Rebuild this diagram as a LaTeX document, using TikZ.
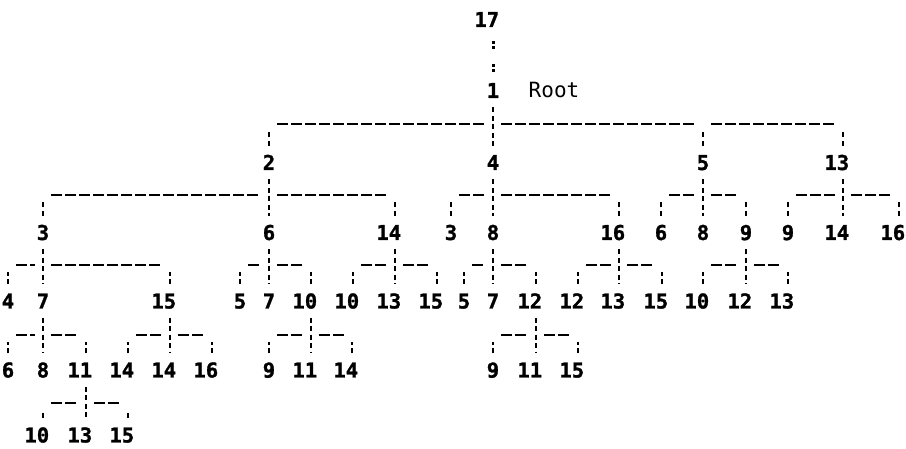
\documentclass[tikz,border=0pt]{standalone}
\usepackage{fontspec}
\newfontfamily\dmono{DejaVu Sans Mono}
\newfontfamily\dmonobold{DejaVu Sans Mono Bold}[FakeBold=1.2]
\usetikzlibrary{calc}
\tikzset{
  num/.style={font=\dmonobold\fontsize{20.5}{20.5}\selectfont, inner xsep=0pt, inner ysep=9pt, text height=15pt, text depth=0pt},
  rootlab/.style={font=\dmono\fontsize{21}{21}\selectfont, inner sep=0pt, text height=15pt, text depth=0pt},
  vl/.style={line width=2.2pt, dash pattern=on 5pt off 3.5pt},
  hl/.style={line width=2.3pt, dash pattern=on 11pt off 3pt},
  colonline/.style={line width=3pt, shorten <=5pt, dash pattern=on 3pt off 2pt on 3pt off 15pt on 3pt off 2pt on 3pt off 30pt}
}
\newcommand\kids[5]{%
  \draw[vl] (#1.south) -- (#4.north);
  \draw[vl,shorten >=7pt] (#3.north) -- (#3.north |- #2);
  \draw[vl,shorten >=7pt] (#5.north) -- (#5.north |- #2);
  \draw[hl] ($(#3.north |- #2)+(8,0)$) -- ($(#4.north |- #2)-(8,0)$);
  \draw[hl] ($(#4.north |- #2)+(8,0)$) -- ($(#5.north |- #2)-(8,0)$);
}
\begin{document}
\begin{tikzpicture}[x=1pt,y=1pt]
\fill[white] (0,0) rectangle (906,449);
\useasboundingbox (0,0) rectangle (906,449);
% bar levels
\coordinate (L1) at (0,325);
\coordinate (L2) at (0,254);
\coordinate (L3) at (0,184);
\coordinate (L4) at (0,114);
\coordinate (L5) at (0,46);
% row 0 and 1
\node[num] (r17) at (493,429.5) {\llap{1}7};
\node[num] (n1) at (493,358.5) {1};
\node[rootlab] (root) at (554,358.5) {Root};
% row 2
\node[num] (a2) at (269,286.5) {2};
\node[num] (a4) at (493,286.5) {4};
\node[num] (a5) at (703,286.5) {5};
\node[num] (a13) at (843,286.5) {\llap{1}3};
% row 3
\node[num] (b3) at (43,216.5) {3};
\node[num] (b6) at (269,216.5) {6};
\node[num] (b14) at (395,216.5) {\llap{1}4};
\node[num] (b3r) at (451,216.5) {3};
\node[num] (b8) at (493,216.5) {8};
\node[num] (b16) at (619,216.5) {\llap{1}6};
\node[num] (b6r) at (661,216.5) {6};
\node[num] (b8r) at (703,216.5) {8};
\node[num] (b9) at (746,216.5) {9};
\node[num] (b9r) at (788,216.5) {9};
\node[num] (b14r) at (843,216.5) {\llap{1}4};
\node[num] (b16r) at (899,216.5) {\llap{1}6};
% row 4
\node[num] (c4) at (8,148) {4};
\node[num] (c7) at (43,148) {7};
\node[num] (c15) at (170,148) {\llap{1}5};
\node[num] (c5) at (240,148) {5};
\node[num] (c7b) at (269,148) {7};
\node[num] (c10) at (311,148) {\llap{1}0};
\node[num] (c10b) at (353,148) {\llap{1}0};
\node[num] (c13) at (395,148) {\llap{1}3};
\node[num] (c15b) at (437,148) {\llap{1}5};
\node[num] (c5b) at (464,148) {5};
\node[num] (c7c) at (493,148) {7};
\node[num] (c12) at (536,148) {\llap{1}2};
\node[num] (c12b) at (578,148) {\llap{1}2};
\node[num] (c13b) at (619,148) {\llap{1}3};
\node[num] (c15c) at (662,148) {\llap{1}5};
\node[num] (c10c) at (703,148) {\llap{1}0};
\node[num] (c12c) at (746,148) {\llap{1}2};
\node[num] (c13c) at (788,148) {\llap{1}3};
% row 5
\node[num] (d6) at (8,79) {6};
\node[num] (d8) at (43,79) {8};
\node[num] (d11) at (86,79) {\llap{1}1};
\node[num] (d14) at (128,79) {\llap{1}4};
\node[num] (d14b) at (170,79) {\llap{1}4};
\node[num] (d16) at (212,79) {\llap{1}6};
\node[num] (d9) at (269,79) {9};
\node[num] (d11b) at (311,79) {\llap{1}1};
\node[num] (d14c) at (352,79) {\llap{1}4};
\node[num] (d9b) at (493,79) {9};
\node[num] (d11c) at (536,79) {\llap{1}1};
\node[num] (d15) at (578,79) {\llap{1}5};
% row 6
\node[num] (e10) at (43,14) {\llap{1}0};
\node[num] (e13) at (86,14) {\llap{1}3};
\node[num] (e15) at (128,14) {\llap{1}5};
% 17 to 1
\draw[colonline] (r17.south) -- (n1.north);
% root's children
\draw[vl] (n1.south) -- (a4.north);
\draw[vl,shorten >=7pt] (a2.north) -- (a2.north |- L1);
\draw[vl,shorten >=7pt] (a5.north) -- (a5.north |- L1);
\draw[vl,shorten >=7pt] (a13.north) -- (a13.north |- L1);
\draw[hl] ($(a2.north |- L1)+(8,0)$) -- ($(a4.north |- L1)-(8,0)$);
\draw[hl] ($(a4.north |- L1)+(8,0)$) -- ($(a5.north |- L1)-(8,0)$);
\draw[hl] ($(a5.north |- L1)+(8,0)$) -- ($(a13.north |- L1)-(8,0)$);
% level 2
\kids{a2}{L2}{b3}{b6}{b14}
\kids{a4}{L2}{b3r}{b8}{b16}
\kids{a5}{L2}{b6r}{b8r}{b9}
\kids{a13}{L2}{b9r}{b14r}{b16r}
% level 3
\kids{b3}{L3}{c4}{c7}{c15}
\kids{b6}{L3}{c5}{c7b}{c10}
\kids{b14}{L3}{c10b}{c13}{c15b}
\kids{b8}{L3}{c5b}{c7c}{c12}
\kids{b16}{L3}{c12b}{c13b}{c15c}
\kids{b9}{L3}{c10c}{c12c}{c13c}
% level 4
\kids{c7}{L4}{d6}{d8}{d11}
\kids{c15}{L4}{d14}{d14b}{d16}
\kids{c10}{L4}{d9}{d11b}{d14c}
\kids{c12}{L4}{d9b}{d11c}{d15}
% level 5
\kids{d11}{L5}{e10}{e13}{e15}
\end{tikzpicture}
\end{document}
